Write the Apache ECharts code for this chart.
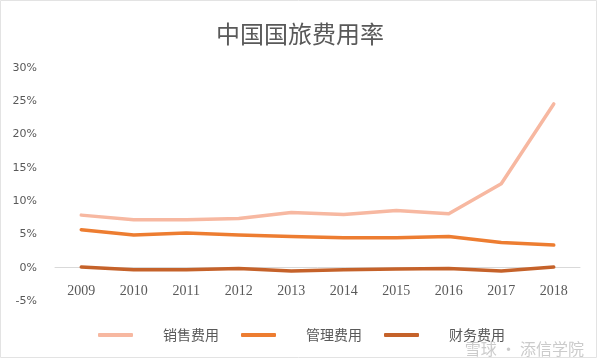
<!DOCTYPE html>
<html><head><meta charset="utf-8">
<script src="https://cdn.jsdelivr.net/npm/echarts@6/dist/echarts.min.js"></script>
<style>html,body{margin:0;padding:0;background:#fff}#c{width:600px;height:359px}</style>
</head><body><div id="c"></div>
<script>
const years = ['2009','2010','2011','2012','2013','2014','2015','2016','2017','2018'];
const sales = [7.9, 7.2, 7.2, 7.4, 8.3, 8.0, 8.6, 8.1, 12.6, 24.6];
const admin = [5.7, 4.9, 5.2, 4.9, 4.7, 4.5, 4.5, 4.7, 3.8, 3.4];
const finance = [0.1, -0.3, -0.3, -0.1, -0.5, -0.3, -0.2, -0.1, -0.5, 0.1];
const seriesNames = ['销售费用', '管理费用', '财务费用'];
const colors = ['#F7B8A1', '#ED7D31', '#C5622A'];
const yTicks = [-5, 0, 5, 10, 15, 20, 25, 30];

const chart = echarts.init(document.getElementById('c'));
const mk = (name, data, color) => ({
  name, type: 'line', data, symbol: 'none', smooth: false,
  lineStyle: { color, width: 3.5, cap: 'round', join: 'round' },
  itemStyle: { color }
});
chart.setOption({
  backgroundColor: '#fff',
  animation: false,
  title: {
    text: '中国国旅费用率', left: 'center', top: 17,
    textStyle: { fontFamily: 'Noto Sans CJK SC', fontWeight: 'normal', fontSize: 24, color: '#595959' }
  },
  grid: { left: 55, right: 20, top: 68, bottom: 58 },
  legend: {
    bottom: 12, left: 93,
    itemWidth: 35, itemHeight: 4, itemGap: 22,
    icon: 'roundRect',
    textStyle: { fontFamily: 'Noto Sans CJK SC', fontSize: 14, color: '#595959', padding: [0, 0, 0, 25] },
    data: seriesNames
  },
  xAxis: {
    type: 'category', data: years, boundaryGap: true,
    axisLine: { onZero: true, lineStyle: { color: '#D9D9D9', width: 1 } },
    axisTick: { show: false },
    axisLabel: { margin: -17, fontFamily: 'Liberation Serif', fontSize: 14, color: '#595959' }
  },
  yAxis: {
    type: 'value', min: -5, max: 30, interval: 5,
    splitLine: { show: false }, axisLine: { show: false }, axisTick: { show: false },
    axisLabel: { margin: 18, fontFamily: 'DejaVu Sans', fontSize: 11, color: '#595959',
      formatter: v => yTicks.includes(v) ? v + '%' : '' }
  },
  series: [mk(seriesNames[0], sales, colors[0]), mk(seriesNames[1], admin, colors[1]), mk(seriesNames[2], finance, colors[2])],
  graphic: [
    { type: 'rect', shape: { x: 0.5, y: 0.5, width: 596, height: 357 }, style: { fill: 'none', stroke: '#E3E3E3', lineWidth: 1 }, silent: true },
    { type: 'text', right: 16, bottom: 2, style: { text: '雪球 · 添信学院', fontFamily: 'Noto Sans CJK SC', fontSize: 16, fill: 'rgba(190,190,190,0.8)' }, z: 100 }
  ]
});
</script></body></html>
